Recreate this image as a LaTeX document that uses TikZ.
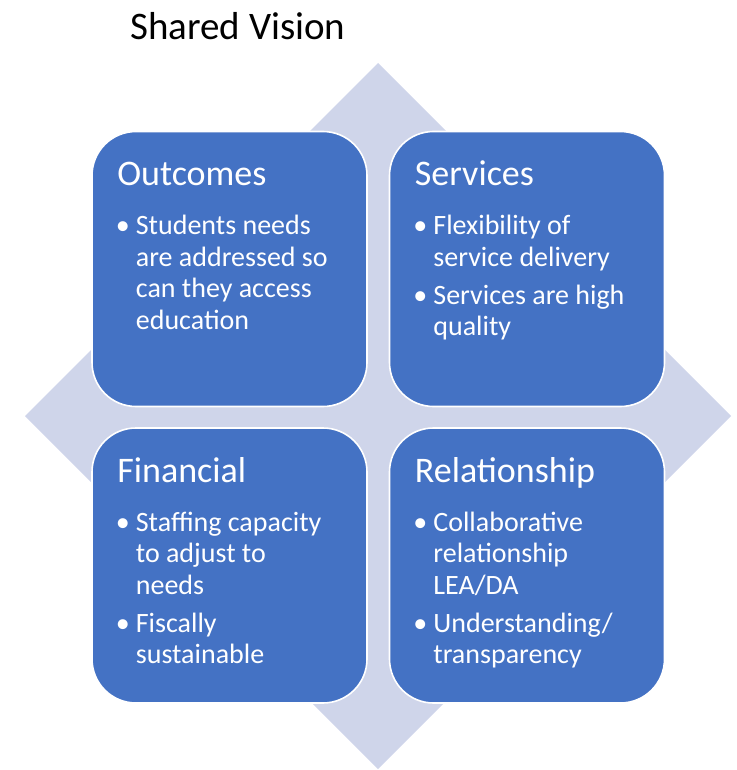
\documentclass[tikz,border=0pt]{standalone}
\usepackage{fontspec}
\setmainfont{Carlito}
\usepackage{tikz}
\usetikzlibrary{calc}

\definecolor{tileblue}{HTML}{4472C4}
\definecolor{paleback}{HTML}{CFD5EA}

% bullet in the first column, wrapped lines in the second
\newcommand{\pt}{\makebox[18.5pt][l]{\hspace{-1.5pt}\textbullet}}

\begin{document}
\begin{tikzpicture}[x=1pt,y=-1pt]
  \tikzstyle{tile}=[rectangle, rounded corners=44pt, fill=tileblue, draw=white, line width=1.6pt,
                    minimum width=275pt, minimum height=275pt, inner sep=0pt]
  \tikzstyle{head}=[anchor=base west, inner sep=0pt, text=white, font=\fontsize{36}{40}\selectfont]
  \tikzstyle{items}=[anchor=base west, inner sep=0pt, text=white, font=\fontsize{28}{31.5}\selectfont]
  \useasboundingbox (0,0) rectangle (736,770);

  % pale diamond behind the tiles
  \fill[paleback] (378,63) -- (731,416) -- (378,769) -- (25,416) -- cycle;

  \node[anchor=base west, inner sep=0pt, font=\fontsize{39}{44}\selectfont] (title) at (130,39.5) {Shared Vision};

  \node[tile] (outcomes) at (229.5,269) {};
  \node[tile] (services) at (527,269) {};
  \node[tile] (financial) at (229.5,565.5) {};
  \node[tile] (relation) at (527,565.5) {};

  \node[head] (outcomesHead) at ($(outcomes.north west)+(26,55)$) {Outcomes};
  \node[items] (outcomesList) at ($(outcomes.north west)+(26,104)$)
    {\begin{tabular}[t]{@{}l@{}l@{}}
       \pt & Students needs\\ & are addressed so\\ & can they access\\ & education
     \end{tabular}};

  \node[head] (servicesHead) at ($(services.north west)+(26,55)$) {Services};
  \node[items] (servicesList) at ($(services.north west)+(26,104)$)
    {\begin{tabular}[t]{@{}l@{}l@{}}
       \pt & Flexibility of\\ & service delivery\\[6.5pt]
       \pt & Services are high\\ & quality
     \end{tabular}};

  \node[head] (financialHead) at ($(financial.north west)+(26,55)$) {Financial};
  \node[items] (financialList) at ($(financial.north west)+(26,104)$)
    {\begin{tabular}[t]{@{}l@{}l@{}}
       \pt & Staffing capacity\\ & to adjust to\\ & needs\\[6.5pt]
       \pt & Fiscally\\ & sustainable
     \end{tabular}};

  \node[head] (relationHead) at ($(relation.north west)+(26,55)$) {Relationship};
  \node[items] (relationList) at ($(relation.north west)+(26,104)$)
    {\begin{tabular}[t]{@{}l@{}l@{}}
       \pt & Collaborative\\ & relationship\\ & LEA/DA\\[6.5pt]
       \pt & Understanding/\\ & transparency
     \end{tabular}};
\end{tikzpicture}
\end{document}
